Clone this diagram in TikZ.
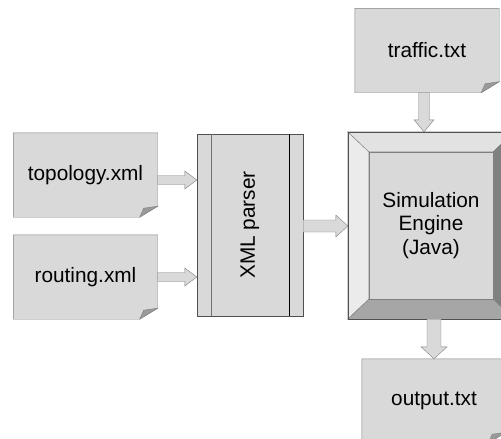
\documentclass[tikz,border=0pt]{standalone}
\usepackage{fontspec}
\setmainfont{Liberation Sans}
\usepackage{graphicx}
\usepackage{xcolor}
\usepackage{tikz}
\usetikzlibrary{calc,backgrounds}
\definecolor{boxgray}{HTML}{D9D9D9}
\definecolor{linegray}{HTML}{808080}
\definecolor{foldgray}{HTML}{9A9A9A}
\definecolor{xmledge}{HTML}{505050}
\definecolor{bevellight}{HTML}{EBEBEB}
\definecolor{beveltop}{HTML}{E2E2E2}
\definecolor{beveldark}{HTML}{808080}
\definecolor{bevelbottom}{HTML}{A6A6A6}
\def\bigfont{\fontsize{20.8}{23.5}\selectfont}
\def\docpaper#1{
  \path[paper] (#1.north west) -- (#1.north east) -- ($(#1.south east)+(0,-11)$)
    -- ($(#1.south east)+(-18,0)$) -- (#1.south west) -- cycle;
  \path[fold] ($(#1.south east)+(-18,0)$) -- ($(#1.south east)+(0,-11)$)
    -- ($(#1.south east)+(-14,-9)$) -- cycle;}
\def\blkright#1#2#3#4{\path[blk] let \p1=#1, \p2=#2 in
  (\x1,\y1+#3) -- (\x2-12pt,\y1+#3) -- (\x2-12pt,\y1+#4) -- (\x2,\y1)
  -- (\x2-12pt,\y1-#4) -- (\x2-12pt,\y1-#3) -- (\x1,\y1-#3) -- cycle;}
\def\blkdown#1#2#3#4{\path[blk] let \p1=#1, \p2=#2 in
  (\x1-#3,\y1) -- (\x1-#3,\y2+12pt) -- (\x1-#4,\y2+12pt) -- (\x1,\y2)
  -- (\x1+#4,\y2+12pt) -- (\x1+#3,\y2+12pt) -- (\x1+#3,\y1) -- cycle;}
\tikzstyle{doc}=[minimum width=144pt,minimum height=84pt,inner sep=0pt,font=\bigfont]
\tikzstyle{paper}=[draw=linegray,fill=boxgray]
\tikzstyle{fold}=[draw=linegray,fill=foldgray]
\tikzstyle{blk}=[draw=linegray,fill=boxgray]
\tikzstyle{face}=[draw=linegray]

\begin{document}
\begin{tikzpicture}[x=1pt,y=-1pt]
    \useasboundingbox (0,0) rectangle (501,439);
    % input and output files
    \path node[doc] (topo) at (85.5,175) {topology.xml}
          node[doc] (route) at (85.5,277) {routing.xml}
          node[doc] (traffic) at (427,50.5) {traffic.txt}
          node[doc] (output) at (434,401) {output.txt};
    % parser and engine
    \path node[draw=xmledge,fill=boxgray,minimum width=106pt,minimum height=182pt,
               inner sep=0pt,font=\bigfont] (xml) at (250,225) {\rotatebox{90}{XML parser}};
    \draw[xmledge!80] ($(xml.north west)+(14,0)$) -- ($(xml.south west)+(14,0)$);
    \draw[black] ($(xml.north east)+(-14,0)$) -- ($(xml.south east)+(-14,0)$);
    \path node[minimum width=166pt,minimum height=187pt,inner sep=0pt,
               font=\bigfont,align=center] (sim) at (431,225.5) {Simulation\\Engine\\(Java)};
    \begin{scope}[on background layer]
      \docpaper{topo}
      \docpaper{route}
      \docpaper{traffic}
      \docpaper{output}
      \path[face,fill=bevellight] (sim.north west) -- ($(sim.north west)+(21,20)$)
        -- ($(sim.south west)+(21,-20)$) -- (sim.south west) -- cycle;
      \path[face,fill=beveltop] (sim.north west) -- (sim.north east)
        -- ($(sim.north east)+(-21,20)$) -- ($(sim.north west)+(21,20)$) -- cycle;
      \path[face,fill=beveldark] (sim.north east) -- (sim.south east)
        -- ($(sim.south east)+(-21,-20)$) -- ($(sim.north east)+(-21,20)$) -- cycle;
      \path[face,fill=bevelbottom] (sim.south west) -- ($(sim.south west)+(21,-20)$)
        -- ($(sim.south east)+(-21,-20)$) -- (sim.south east) -- cycle;
      \path[face,fill=boxgray] ($(sim.north west)+(21,20)$) rectangle ($(sim.south east)+(-21,-20)$);
      \draw[xmledge] (sim.north west) rectangle (sim.south east);
    \end{scope}
    % block arrows
    \blkright{($(topo.east)+(0,5)$)}{(xml.west)}{4.5pt}{9pt}
    \blkright{(route.east)}{(xml.west)}{4.5pt}{9pt}
    \blkright{($(xml.east)+(0,1)$)}{(sim.west)}{6pt}{11pt}
    \blkdown{($(traffic.south)+(-3,0)$)}{(sim.north)}{5.5pt}{10pt}
    \blkdown{($(sim.south)+(3,0)$)}{(output.north)}{7pt}{13pt}
\end{tikzpicture}
\end{document}
